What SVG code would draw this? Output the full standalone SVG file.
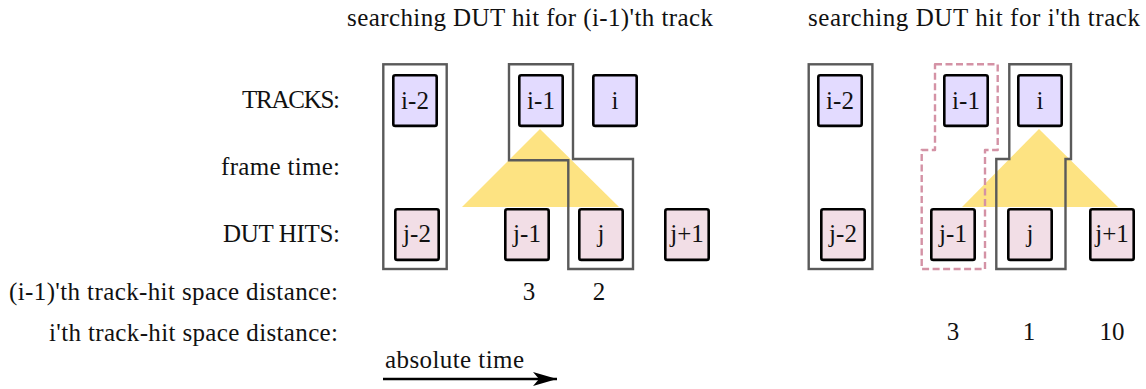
<svg xmlns="http://www.w3.org/2000/svg" width="1146" height="389" viewBox="0 0 1146 389">
<style>
text{font-family:"Liberation Serif","DejaVu Serif",serif;font-size:25px;fill:#111}
.c{text-anchor:middle}
.e{text-anchor:end}
.trk{fill:#e3dbff;stroke:#000;stroke-width:2.6}
.hit{fill:#f2dee6;stroke:#000;stroke-width:2.6}
.frame{fill:none;stroke:#5a5a5a;stroke-width:2.4}
.dash{fill:none;stroke:#d492a5;stroke-width:2.4;stroke-dasharray:7 3.5;stroke-linejoin:round}
.tri{fill:#fde382}
</style>
<defs>
<marker id="ah" markerWidth="26" markerHeight="14" refX="24" refY="7" orient="auto" markerUnits="userSpaceOnUse">
<path d="M24,7 L0,0 L6,7 L0,14 Z" fill="#000"/>
</marker>
</defs>
<rect width="1146" height="389" fill="#fff"/>

<g id="titles">
<text x="347" y="26" textLength="366">searching DUT hit for (i-1)'th track</text>
<text x="808" y="26" textLength="332">searching DUT hit for i'th track</text>
</g>
<g id="row-labels">
<text class="e" x="340" y="108" textLength="98">TRACKS:</text>
<text class="e" x="340" y="175" textLength="119">frame time:</text>
<text class="e" x="340" y="242" textLength="117">DUT HITS:</text>
<text class="e" x="338" y="300" textLength="329">(i-1)'th track-hit space distance:</text>
<text class="e" x="338" y="341" textLength="289">i'th track-hit space distance:</text>
</g>

<g id="windows">
<polygon class="tri" points="540,129 462,207 619,207"/>
<polygon class="tri" points="1039,129 962,207 1118,207"/>
</g>

<g id="left-panel">
<g id="L-i-2"><rect class="trk" x="393.3" y="75.3" width="43.4" height="50.6" rx="2"/><text class="c" x="415" y="109">i-2</text></g>
<g id="L-i-1"><rect class="trk" x="519.3" y="75.3" width="43.4" height="50.6" rx="2"/><text class="c" x="541" y="109">i-1</text></g>
<g id="L-i"><rect class="trk" x="593.3" y="75.3" width="43.4" height="50.6" rx="2"/><text class="c" x="615" y="109">i</text></g>
<g id="L-j-2"><rect class="hit" x="395.3" y="209.3" width="43.4" height="50.6" rx="2"/><text class="c" x="417" y="242">j-2</text></g>
<g id="L-j-1"><rect class="hit" x="505.3" y="209.3" width="43.4" height="50.6" rx="2"/><text class="c" x="527" y="242">j-1</text></g>
<g id="L-j"><rect class="hit" x="579.3" y="209.3" width="43.4" height="50.6" rx="2"/><text class="c" x="601" y="242">j</text></g>
<g id="L-j+1"><rect class="hit" x="665.3" y="209.3" width="43.4" height="50.6" rx="2"/><text class="c" x="687" y="242">j+1</text></g>
</g>

<g id="right-panel">
<g id="R-i-2"><rect class="trk" x="818.3" y="75.3" width="43.4" height="50.6" rx="2"/><text class="c" x="840" y="109">i-2</text></g>
<g id="R-i-1"><rect class="trk" x="944.3" y="75.3" width="43.4" height="50.6" rx="2"/><text class="c" x="966" y="109">i-1</text></g>
<g id="R-i"><rect class="trk" x="1018.3" y="75.3" width="43.4" height="50.6" rx="2"/><text class="c" x="1040" y="109">i</text></g>
<g id="R-j-2"><rect class="hit" x="821.3" y="209.3" width="43.4" height="50.6" rx="2"/><text class="c" x="843" y="242">j-2</text></g>
<g id="R-j-1"><rect class="hit" x="931.3" y="209.3" width="43.4" height="50.6" rx="2"/><text class="c" x="953" y="242">j-1</text></g>
<g id="R-j"><rect class="hit" x="1008.3" y="209.3" width="43.4" height="50.6" rx="2"/><text class="c" x="1030" y="242">j</text></g>
<g id="R-j+1"><rect class="hit" x="1090.3" y="209.3" width="43.4" height="50.6" rx="2"/><text class="c" x="1112" y="242">j+1</text></g>
</g>

<g id="frames">
<rect class="frame" x="383.3" y="64.3" width="63.4" height="204.7"/>
<polygon class="frame" points="509,64.3 573,64.3 573,159 633,159 633,269 568.3,269 568.3,160.3 509,160.3"/>
<rect class="frame" x="808.7" y="64.3" width="63.7" height="204.7"/>
<polygon class="frame" points="1009.3,64.3 1071,64.3 1071,159 1065.5,159 1065.5,269 996.3,269 996.3,159 1009.3,159"/>
<polygon class="dash" points="935,64.3 997.7,64.3 997.7,150 985,150 985,269 921.7,269 921.7,150 935,150"/>
</g>

<g id="distances">
<text class="c" x="529" y="300">3</text>
<text class="c" x="599" y="300">2</text>
<text class="c" x="953" y="340">3</text>
<text class="c" x="1029" y="340">1</text>
<text class="c" x="1112" y="340">10</text>
</g>

<g id="connectors">
<text x="385" y="368" textLength="139">absolute time</text>
<line x1="383" y1="379" x2="557" y2="379" stroke="#000" stroke-width="2.6" marker-end="url(#ah)"/>
</g>
</svg>
